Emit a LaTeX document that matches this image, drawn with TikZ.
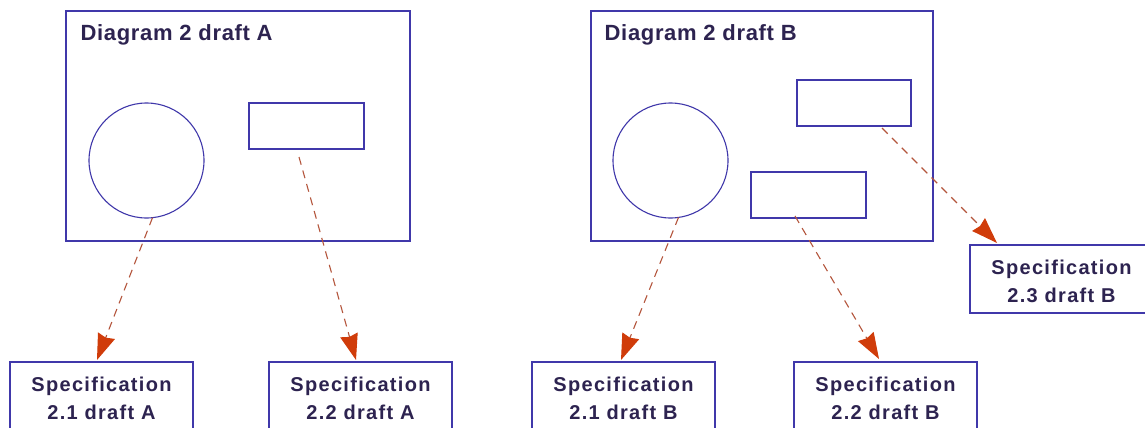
\documentclass[tikz,border=0pt]{standalone}
\usepackage{fontspec}
\setmainfont{Liberation Sans}
\newfontfamily\specfont[LetterSpace=6.5]{Liberation Sans}
\newfontfamily\titlefont[LetterSpace=3]{Liberation Sans}
\usetikzlibrary{arrows.meta}
\definecolor{lineblue}{RGB}{64,56,170}
\definecolor{textpurple}{RGB}{45,35,80}
\definecolor{arrowred}{RGB}{208,60,10}
\definecolor{dashbrown}{RGB}{180,85,60}
\newcommand{\firststrut}{\rule{0pt}{18.6pt}}
\begin{document}
\begin{tikzpicture}[x=1pt,y=-1pt,
  frame/.style={draw=lineblue,line width=1.3pt,rectangle,inner sep=0pt,outer sep=0pt},
  roundshape/.style={draw=lineblue,line width=1.1pt,circle,minimum size=115pt,inner sep=0pt,outer sep=0pt},
  title/.style={anchor=base west,inner sep=0pt,text=textpurple,font={\titlefont\bfseries\fontsize{22}{26}\selectfont}},
  spec/.style={draw=lineblue,line width=1.3pt,fill=white,rectangle,minimum width=183pt,minimum height=68pt,
    inner sep=0pt,outer sep=0pt,align=center,text=textpurple,
    font={\specfont\bfseries\fontsize{20}{28}\selectfont}},
  link/.style={draw=dashbrown,line width=1.1pt,dash pattern=on 8pt off 6pt,
    -{Stealth[length=26pt,width=18pt,inset=2pt,color=arrowred]}}]
\useasboundingbox (0,0) rectangle (1145,428);
\clip (0,0) rectangle (1145,428);
\fill[white] (0,0) rectangle (1145,428);

% Diagram A
\node[frame,minimum width=344pt,minimum height=230pt] (frameA) at (238,126) {};
\node[title] (titleA) at (80.5,41) {Diagram 2 draft A};
\node[roundshape] (circA) at (146.5,160.5) {};
\node[frame,minimum width=115pt,minimum height=46pt] (rectA) at (306.5,126) {};

% Diagram B
\node[frame,minimum width=342pt,minimum height=230pt] (frameB) at (762,126) {};
\node[title] (titleB) at (604.5,41) {Diagram 2 draft B};
\node[roundshape] (circB) at (670.5,160.5) {};
\node[frame,minimum width=114pt,minimum height=46pt] (rectB1) at (854,103) {};
\node[frame,minimum width=115pt,minimum height=46pt] (rectB2) at (808.5,195) {};

% Specifications
\node[spec] (specA1) at (101.5,396) {\firststrut Specification\\2.1 draft A};
\node[spec] (specA2) at (360.5,396) {\firststrut Specification\\2.2 draft A};
\node[spec] (specB1) at (623.5,396) {\firststrut Specification\\2.1 draft B};
\node[spec] (specB2) at (885.5,396) {\firststrut Specification\\2.2 draft B};
\node[spec] (specB3) at (1061.5,279) {\firststrut Specification\\2.3 draft B};

% Links
\draw[link] (circA.-84) -- ([xshift=-4.5pt,yshift=2pt]specA1.north);
\draw[link] ([xshift=-7.5pt,yshift=-8pt]rectA.south) -- ([xshift=-4.5pt,yshift=2pt]specA2.north);
\draw[link] (circB.-82) -- ([xshift=-2.5pt,yshift=2pt]specB1.north);
\draw[link] ([xshift=-13.5pt,yshift=2pt]rectB2.south) -- ([xshift=-6.5pt,yshift=3pt]specB2.north);
\draw[link] ([xshift=28pt,yshift=-2pt]rectB1.south) -- ([xshift=27pt,yshift=2pt]specB3.north west);
\end{tikzpicture}
\end{document}
